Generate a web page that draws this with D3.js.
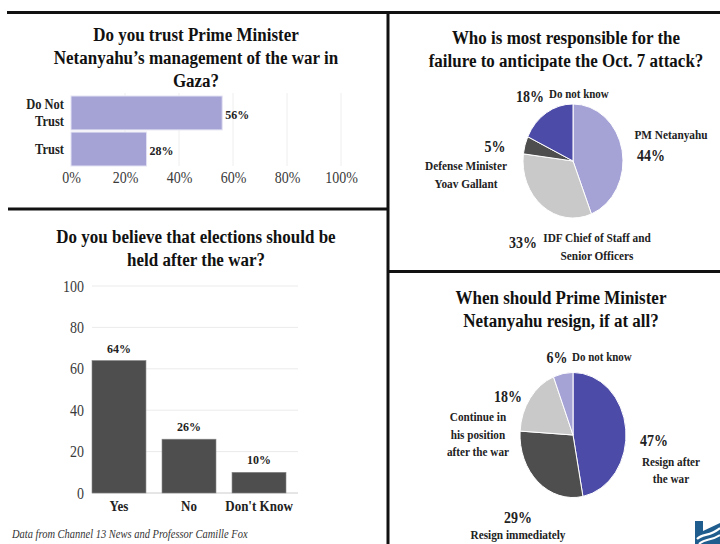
<!DOCTYPE html>
<html>
<head>
<meta charset="utf-8">
<script src="https://cdn.jsdelivr.net/npm/d3@7"></script>
<style>
html,body{margin:0;padding:0;background:#fff;}
svg{display:block;}
text{font-family:"Liberation Serif","Times New Roman",serif;}
</style>
</head>
<body>
<svg id="chart" width="720" height="544"></svg>
<script>
// ---------- DATA ----------
const trustCats = ["Do Not Trust", "Trust"];
const trustVals = [56, 28];
const trustTicks = [0, 20, 40, 60, 80, 100];

const electionCats = ["Yes", "No", "Don't Know"];
const electionVals = [64, 26, 10];
const electionTicks = [0, 20, 40, 60, 80, 100];

const blameCats = ["PM Netanyahu", "IDF Chief of Staff and Senior Officers", "Defense Minister Yoav Gallant", "Do not know"];
const blameVals = [44, 33, 5, 18];

const resignCats = ["Resign after the war", "Resign immediately", "Continue in his position after the war", "Do not know"];
const resignVals = [47, 29, 18, 6];

// ---------- STYLE ----------
const LAV = "#a5a2d6", BLUE = "#4c4ba8", DARK = "#4e4e4e", LIGHT = "#c9c9c9";
const SY = 1.12; // vertical stretch of the text in the source image
const svg = d3.select("#chart");

// stretch a text element vertically around its own y positions
function stretch(t) {
  t.each(function () {
    const el = d3.select(this);
    const y = el.attr("y");
    if (y !== null) el.attr("y", (+y) / SY);
    el.selectAll("tspan").each(function () {
      const ts = d3.select(this);
      if (ts.attr("y") !== null) ts.attr("y", (+ts.attr("y")) / SY);
    });
    el.attr("transform", `scale(1,${SY})`);
  });
  return t;
}

function title(lines, cx, y0, lh) {
  const t = svg.append("text").attr("text-anchor", "middle").attr("font-weight", "bold")
    .attr("font-size", 17).attr("fill", "#111");
  lines.forEach((l, i) => t.append("tspan").attr("x", cx).attr("y", y0 + i * lh).text(l));
  stretch(t);
}

// ---------- FRAME LINES ----------
const frame = svg.append("g").attr("stroke", "#111").attr("stroke-width", 3);
frame.append("line").attr("x1", 7).attr("x2", 720).attr("y1", 12.5).attr("y2", 12.5);
frame.append("line").attr("x1", 8).attr("x2", 388).attr("y1", 209).attr("y2", 209);
frame.append("line").attr("x1", 388).attr("x2", 720).attr("y1", 271.5).attr("y2", 271.5);
frame.append("line").attr("x1", 388).attr("x2", 388).attr("y1", 11).attr("y2", 544);

// ---------- PANEL 1 : horizontal bars ----------
title(["Do you trust Prime Minister", "Netanyahu\u2019s management of the war in", "Gaza?"], 196, 41, 23);

const x1 = d3.scaleLinear().domain([0, 100]).range([71, 341]);
const y1 = d3.scaleBand().domain(trustCats).range([96, 166]).paddingInner(0.06);

svg.append("g").selectAll("line").data(trustTicks.slice(1)).join("line")
  .attr("x1", d => x1(d)).attr("x2", d => x1(d)).attr("y1", 93).attr("y2", 166)
  .attr("stroke", "#eeeeee").attr("stroke-width", 1);

svg.append("g").selectAll("rect").data(trustVals).join("rect")
  .attr("x", x1(0)).attr("y", (d, i) => y1(trustCats[i]))
  .attr("width", d => x1(d) - x1(0)).attr("height", y1.bandwidth())
  .attr("fill", LAV).attr("stroke", "#e4e3f3").attr("stroke-width", 1);

stretch(svg.append("g").selectAll("text").data(trustVals).join("text")
  .attr("x", d => x1(d) + 3).attr("y", (d, i) => y1(trustCats[i]) + y1.bandwidth() / 2 + 1)
  .attr("dy", "0.35em").attr("font-size", 12).attr("font-weight", "bold").attr("fill", "#222")
  .text(d => d + "%"));

const ax1 = svg.append("g").attr("transform", "translate(0,166)")
  .call(d3.axisBottom(x1).tickValues(trustTicks).tickSize(0).tickPadding(6).tickFormat(d => d + "%"));
ax1.select(".domain").remove();
stretch(ax1.selectAll("text").attr("font-size", 14).attr("fill", "#3a3a3a").attr("font-family", "Liberation Serif, serif"));

const catLines1 = { "Do Not Trust": ["Do Not", "Trust"], "Trust": ["Trust"] };
trustCats.forEach(c => {
  const ls = catLines1[c];
  const cy = y1(c) + y1.bandwidth() / 2;
  const t = svg.append("text").attr("text-anchor", "end").attr("font-size", 12.5)
    .attr("font-weight", "bold").attr("fill", "#222");
  ls.forEach((l, i) => t.append("tspan").attr("x", 64)
    .attr("y", cy + (i - (ls.length - 1) / 2) * 17).attr("dy", "0.35em").text(l));
  stretch(t);
});

// ---------- PANEL 2 : vertical bars ----------
title(["Do you believe that elections should be", "held after the war?"], 196, 243, 23);

const y2 = d3.scaleLinear().domain([0, 100]).range([493, 286]);
const x2 = d3.scaleBand().domain(electionCats).range([92, 286]).paddingInner(0.229).paddingOuter(0);

svg.append("g").selectAll("line").data(electionTicks).join("line")
  .attr("x1", 92).attr("x2", 298).attr("y1", d => y2(d)).attr("y2", d => y2(d))
  .attr("stroke", d => d === 0 ? "#cccccc" : "#ebebeb").attr("stroke-width", 1);

const ay2 = svg.append("g").attr("transform", "translate(92,0)")
  .call(d3.axisLeft(y2).tickValues(electionTicks).tickSize(0).tickPadding(8));
ay2.select(".domain").remove();
stretch(ay2.selectAll("text").attr("font-size", 14).attr("fill", "#3a3a3a").attr("font-family", "Liberation Serif, serif"));

svg.append("g").selectAll("rect").data(electionVals).join("rect")
  .attr("x", (d, i) => x2(electionCats[i])).attr("y", d => y2(d))
  .attr("width", x2.bandwidth()).attr("height", d => y2(0) - y2(d))
  .attr("fill", DARK).attr("stroke", "#888").attr("stroke-width", 0.6);

stretch(svg.append("g").selectAll("text").data(electionVals).join("text")
  .attr("x", (d, i) => x2(electionCats[i]) + x2.bandwidth() / 2).attr("y", d => y2(d) - 8)
  .attr("text-anchor", "middle").attr("font-size", 12).attr("font-weight", "bold").attr("fill", "#222")
  .text(d => d + "%"));

const ax2 = svg.append("g").attr("transform", "translate(0,493)")
  .call(d3.axisBottom(x2).tickSize(0).tickPadding(8));
ax2.select(".domain").remove();
stretch(ax2.selectAll("text").attr("font-size", 13).attr("font-weight", "bold").attr("fill", "#222")
  .attr("font-family", "Liberation Serif, serif"));

stretch(svg.append("text").attr("x", 12).attr("y", 538).attr("font-size", 10.5).attr("font-style", "italic")
  .attr("fill", "#333").text("Data from Channel 13 News and Professor Camille Fox"));

// ---------- PIE HELPERS ----------
function drawPie(vals, colors, cx, cy, r, sy) {
  const arcs = d3.pie().sort(null).value(d => d)(vals);
  const arc = d3.arc().innerRadius(0).outerRadius(r);
  svg.append("g").attr("transform", `translate(${cx},${cy}) scale(1,${sy})`)
    .selectAll("path").data(arcs).join("path")
    .attr("d", arc).attr("fill", (d, i) => colors[i])
    .attr("stroke", "#fff").attr("stroke-width", 1).attr("vector-effect", "non-scaling-stroke");
}
function label(lines, x, y, size, anchor, lh) {
  const t = svg.append("text").attr("text-anchor", anchor || "start").attr("font-size", size)
    .attr("font-weight", "bold").attr("fill", "#222");
  lines.forEach((l, i) => t.append("tspan").attr("x", x).attr("y", y + i * (lh || 17)).attr("dy", "0.35em").text(l));
  stretch(t);
}

// ---------- PANEL 3 : blame pie ----------
title(["Who is most responsible for the", "failure to anticipate the Oct. 7 attack?"], 566, 44, 23);
drawPie(blameVals, [LAV, LIGHT, DARK, BLUE], 573, 161, 50, 1.14);

label([blameVals[3] + "%"], 530, 97, 14, "middle");
label([blameCats[3]], 549, 94, 11, "start");
label(["PM Netanyahu"], 671, 135, 11.3, "middle");
label([blameVals[0] + "%"], 637, 156, 14, "start");
label([blameVals[2] + "%"], 495, 147, 14, "middle");
label(["Defense Minister", "Yoav Gallant"], 466, 166, 11.3, "middle", 17.5);
label([blameVals[1] + "%"], 523, 243, 14, "middle");
label(["IDF Chief of Staff and"], 597, 238, 11.3, "middle");
label(["Senior Officers"], 597, 255.5, 11.3, "middle");

// ---------- PANEL 4 : resign pie ----------
title(["When should Prime Minister", "Netanyahu resign, if at all?"], 561, 304, 23);
drawPie(resignVals, [BLUE, DARK, LIGHT, LAV], 573, 435, 53, 1.18);

label([resignVals[3] + "%"], 557, 358, 14, "middle");
label([resignCats[3]], 572, 357, 11, "start");
label([resignVals[2] + "%"], 508, 397, 14, "middle");
label(["Continue in", "his position", "after the war"], 478, 417, 11.2, "middle", 17.5);
label([resignVals[0] + "%"], 640, 441, 14, "start");
label(["Resign after", "the war"], 671, 462, 11.2, "middle", 16.5);
label([resignVals[1] + "%"], 518, 518, 14, "middle");
label([resignCats[1]], 518, 535, 11.3, "middle");

// ---------- LOGO ----------
const logo = svg.append("g").attr("transform", "translate(695,519)");
logo.append("path").attr("d", "M0,2 L8,2 L8,12 L25,4 L25,25 L0,25 Z").attr("fill", "#1f5d8e");
logo.append("path").attr("d", "M2,20 C8,14 14,18 25,9").attr("stroke", "#fff").attr("stroke-width", 2.2).attr("fill", "none");
logo.append("path").attr("d", "M4,25 C10,19 16,22 25,16").attr("stroke", "#fff").attr("stroke-width", 2).attr("fill", "none");
</script>
</body>
</html>
